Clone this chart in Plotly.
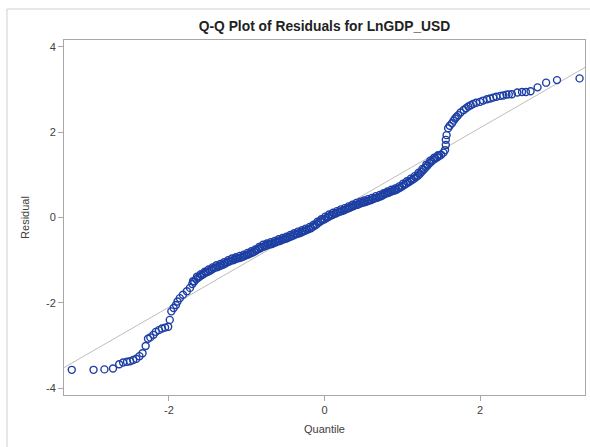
import plotly.graph_objects as go

# Theoretical normal quantiles (x) and residuals (y)
quantile = [
    -3.25, -2.97, -2.83, -2.72, -2.64, -2.59, -2.54, -2.50, -2.46, -2.42,
    -2.38, -2.34, -2.30, -2.27, -2.24, -2.20, -2.17, -2.13, -2.09, -2.05,
    -2.01, -1.99, -1.97, -1.94, -1.91, -1.89, -1.86, -1.82, -1.77, -1.73,
    -1.70, -1.65, -1.60, -1.55, -1.50, -1.45, -1.40, -1.35, -1.30, -1.25,
    -1.20, -1.15, -1.10, -1.05, -1.00, -0.95, -0.90, -0.85, -0.80, -0.75,
    -0.70, -0.65, -0.60, -0.55, -0.50, -0.45, -0.40, -0.35, -0.30, -0.25,
    -0.20, -0.15, -0.10, -0.05, 0.00, 0.05, 0.10, 0.15, 0.20, 0.25,
    0.30, 0.35, 0.40, 0.45, 0.50, 0.55, 0.60, 0.65, 0.70, 0.75,
    0.80, 0.85, 0.90, 0.95, 1.00, 1.05, 1.10, 1.15, 1.20, 1.25,
    1.30, 1.35, 1.40, 1.45, 1.50, 1.53, 1.55, 1.56, 1.56, 1.57,
    1.59, 1.61, 1.64, 1.66, 1.68, 1.70, 1.72, 1.75, 1.79, 1.82,
    1.85, 1.88, 1.91, 1.95, 2.00, 2.04, 2.09, 2.13, 2.17, 2.21,
    2.26, 2.30, 2.34, 2.37, 2.41, 2.48, 2.54, 2.59, 2.65, 2.74,
    2.85, 2.99, 3.28,
]
residual = [
    -3.57, -3.57, -3.56, -3.54, -3.44, -3.40, -3.38, -3.37, -3.34, -3.31,
    -3.25, -3.18, -3.01, -2.84, -2.81, -2.75, -2.68, -2.64, -2.60, -2.58,
    -2.56, -2.40, -2.20, -2.12, -2.05, -1.97, -1.89, -1.81, -1.73, -1.65,
    -1.56, -1.45, -1.38, -1.32, -1.27, -1.22, -1.17, -1.14, -1.10, -1.05,
    -1.01, -0.98, -0.95, -0.92, -0.88, -0.84, -0.80, -0.74, -0.69, -0.66,
    -0.63, -0.60, -0.56, -0.53, -0.50, -0.46, -0.42, -0.38, -0.35, -0.31,
    -0.27, -0.22, -0.16, -0.09, -0.04, 0.01, 0.06, 0.10, 0.14, 0.17,
    0.21, 0.25, 0.29, 0.32, 0.35, 0.38, 0.41, 0.45, 0.48, 0.52,
    0.57, 0.60, 0.63, 0.68, 0.73, 0.79, 0.85, 0.91, 0.98, 1.07,
    1.17, 1.27, 1.35, 1.41, 1.47, 1.52, 1.58, 1.70, 1.82, 1.93,
    2.09, 2.15, 2.21, 2.27, 2.32, 2.36, 2.40, 2.46, 2.52, 2.56,
    2.60, 2.63, 2.66, 2.69, 2.71, 2.74, 2.77, 2.79, 2.81, 2.83,
    2.85, 2.86, 2.88, 2.885, 2.89, 2.93, 2.94, 2.94, 2.96, 3.05,
    3.16, 3.22, 3.26,
]

# Additional points within the dense central band
quantile_mid = [
    -1.675, -1.625, -1.575, -1.525, -1.475, -1.425, -1.375, -1.325, -1.275, -1.225,
    -1.175, -1.125, -1.075, -1.025, -0.975, -0.925, -0.875, -0.825, -0.775, -0.725,
    -0.675, -0.625, -0.575, -0.525, -0.475, -0.425, -0.375, -0.325, -0.275, -0.225,
    -0.175, -0.125, -0.075, -0.025, 0.025, 0.075, 0.125, 0.175, 0.225, 0.275,
    0.325, 0.375, 0.425, 0.475, 0.525, 0.575, 0.625, 0.675, 0.725, 0.775,
    0.825, 0.875, 0.925, 0.975, 1.025, 1.075, 1.125, 1.175, 1.225, 1.275,
    1.325, 1.375, 1.425, 1.475,
]
residual_mid = [
    -1.50, -1.41, -1.35, -1.29, -1.25, -1.19, -1.16, -1.12, -1.08, -1.03,
    -1.00, -0.96, -0.94, -0.90, -0.86, -0.82, -0.77, -0.72, -0.68, -0.64,
    -0.62, -0.58, -0.55, -0.51, -0.48, -0.44, -0.40, -0.37, -0.33, -0.29,
    -0.25, -0.19, -0.12, -0.06, -0.01, 0.04, 0.08, 0.12, 0.15, 0.19,
    0.23, 0.27, 0.30, 0.34, 0.36, 0.40, 0.43, 0.46, 0.50, 0.55,
    0.58, 0.62, 0.65, 0.70, 0.76, 0.82, 0.88, 0.94, 1.02, 1.12,
    1.22, 1.31, 1.38, 1.44,
]

# Points along the upper edge of the thick central band
quantile_edge = [
    -1.69, -1.64, -1.59, -1.54, -1.49, -1.44, -1.39, -1.34, -1.29, -1.24,
    -1.19, -1.14, -1.09, -1.04, -0.99, -0.94, -0.89, -0.84, -0.79, -0.74,
    -0.69, -0.64, -0.59, -0.54, -0.49, -0.44, -0.39, -0.34, -0.29, -0.24,
    -0.19, -0.14, -0.09, -0.04, 0.01, 0.06, 0.11, 0.16, 0.21, 0.26,
    0.31, 0.36, 0.41, 0.46, 0.51, 0.56, 0.61, 0.66, 0.71, 0.76,
    0.81, 0.86, 0.91, 0.96, 1.01, 1.06, 1.11, 1.16, 1.21, 1.26,
    1.31, 1.36, 1.41, 1.46,
]
residual_edge = [
    -1.49, -1.39, -1.33, -1.27, -1.22, -1.17, -1.12, -1.09, -1.05, -1.00,
    -0.96, -0.93, -0.90, -0.87, -0.83, -0.79, -0.75, -0.69, -0.64, -0.61,
    -0.58, -0.55, -0.51, -0.48, -0.45, -0.41, -0.37, -0.33, -0.30, -0.26,
    -0.22, -0.17, -0.10, -0.04, 0.02, 0.07, 0.11, 0.15, 0.19, 0.22,
    0.26, 0.30, 0.34, 0.37, 0.40, 0.43, 0.46, 0.50, 0.53, 0.57,
    0.61, 0.65, 0.68, 0.73, 0.79, 0.85, 0.91, 0.97, 1.05, 1.14,
    1.24, 1.33, 1.40, 1.46,
]

# Reference line (mean, std of residuals)
line_intercept = 0.0
line_slope = 1.05

x_range = [-3.35, 3.35]
y_range = [-4.16, 4.16]
x_ticks = [-2, 0, 2]
y_ticks = [-4, -2, 0, 2, 4]

FONT = "Liberation Sans, Arial, sans-serif"
BLUE = "#1d3fa3"

fig = go.Figure()
fig.add_trace(go.Scatter(
    x=x_range,
    y=[line_intercept + line_slope * v for v in x_range],
    mode="lines",
    line=dict(color="#bdbdbd", width=1),
    hoverinfo="skip",
))
fig.add_trace(go.Scatter(
    x=quantile + quantile_mid + quantile_edge,
    y=residual + residual_mid + residual_edge,
    mode="markers",
    marker=dict(symbol="circle-open", size=7, color=BLUE,
                line=dict(width=1.4, color=BLUE)),
))

axis_common = dict(
    showgrid=False, zeroline=False, showline=True, mirror=True,
    linecolor="#a8a8a8", linewidth=1, automargin=False,
    ticks="outside", ticklen=5, tickcolor="#a8a8a8",
    tickfont=dict(family=FONT, size=11, color="#404040"),
)
fig.update_xaxes(range=x_range, tickvals=x_ticks, ticktext=[str(v) for v in x_ticks],
                 title=dict(text="Quantile", standoff=10,
                            font=dict(family=FONT, size=11, color="#404040")),
                 **axis_common)
fig.update_yaxes(range=y_range, tickvals=y_ticks, ticktext=[str(v) for v in y_ticks],
                 title=dict(text="Residual", standoff=14,
                            font=dict(family=FONT, size=11, color="#404040")),
                 **axis_common)

W, H = 590, 447
ml, mr, mt, mb = 64, 5, 40, 52
pw, ph = W - ml - mr, H - mt - mb

# light outer frame (left and top edges)
fx0 = (7 - ml) / pw
fy_top = (H - mb - 9) / ph
fig.add_shape(type="line", xref="paper", yref="paper", x0=fx0, x1=fx0, y0=fy_top, y1=-0.2,
              line=dict(color="#cfcfcf", width=1))
fig.add_shape(type="line", xref="paper", yref="paper", x0=fx0, x1=1.05, y0=fy_top, y1=fy_top,
              line=dict(color="#cfcfcf", width=1))

fig.update_layout(
    width=W, height=H,
    margin=dict(l=ml, r=mr, t=mt, b=mb),
    paper_bgcolor="white", plot_bgcolor="white",
    showlegend=False,
    title=dict(text="<b>Q-Q Plot of Residuals for LnGDP_USD</b>",
               x=(ml + pw / 2) / W, xanchor="center",
               y=1 - 26 / H, yanchor="middle", automargin=False,
               font=dict(family=FONT, size=13.8, color="#222222")),
)

fig.write_html("out.html", config={"displayModeBar": False},
               post_script="document.body.style.margin='0';document.body.style.overflow='hidden';")
